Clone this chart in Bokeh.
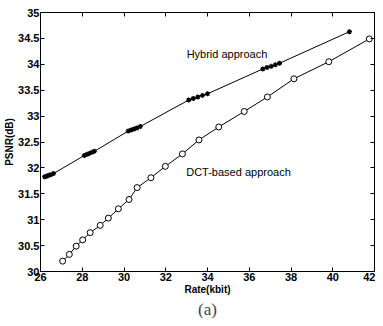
from bokeh.plotting import figure
from bokeh.models import LinearAxis, FixedTicker, Title, Range1d, CustomJSTickFormatter
from bokeh.core.properties import value
from bokeh.embed import file_html
from bokeh.resources import INLINE

# Hybrid approach (clusters of operating points)
hybrid_x = [26.20, 26.30, 26.40, 26.50, 26.62,
            28.10, 28.22, 28.34, 28.46, 28.58,
            30.20, 30.34, 30.48, 30.62, 30.78,
            33.10, 33.32, 33.54, 33.76, 34.00,
            36.65, 36.85, 37.05, 37.25, 37.45,
            40.80]
hybrid_y = [31.83, 31.84, 31.86, 31.87, 31.89,
            32.24, 32.26, 32.28, 32.30, 32.32,
            32.71, 32.73, 32.75, 32.77, 32.80,
            33.31, 33.34, 33.37, 33.40, 33.43,
            33.91, 33.94, 33.96, 33.99, 34.02,
            34.63]

# DCT-based approach
dct_x = [27.06, 27.38, 27.71, 28.02, 28.38, 28.86, 29.25, 29.73, 30.24, 30.63,
         31.29, 31.98, 32.80, 33.59, 34.54, 35.76, 36.87, 38.14, 39.81, 41.75]
dct_y = [30.20, 30.33, 30.49, 30.61, 30.75, 30.89, 31.03, 31.21, 31.39, 31.62,
         31.81, 32.03, 32.27, 32.54, 32.79, 33.09, 33.37, 33.72, 34.05, 34.49]

x_ticks = [26, 28, 30, 32, 34, 36, 38, 40, 42]
y_ticks = [30, 30.5, 31, 31.5, 32, 32.5, 33, 33.5, 34, 34.5, 35]
y_tick_labels = ["30", "30.5", "31", "31.5", "32", "32.5", "33", "33.5", "34", "34.5", "35"]

FONT = "Liberation Sans"

p = figure(width=375, height=318, output_backend="svg", toolbar_location=None,
           x_range=Range1d(26, 42), y_range=Range1d(30, 35),
           min_border_left=40, min_border_right=1, min_border_top=12, min_border_bottom=46,
           x_axis_label="Rate(kbit)", y_axis_label="PSNR(dB)")
p.grid.visible = False
p.outline_line_color = "black"
p.outline_line_width = 1
p.background_fill_color = "white"
p.border_fill_color = "white"

for ax in p.xaxis + p.yaxis:
    ax.major_tick_in = 4
    ax.major_tick_out = 0
    ax.minor_tick_line_color = None
    ax.axis_line_color = "black"
    ax.major_label_text_font = FONT
    ax.major_label_text_font_style = "bold"
    ax.major_label_text_font_size = "11px"
    ax.major_label_text_color = "black"
    ax.axis_label_text_font = FONT
    ax.axis_label_text_font_style = "bold"
    ax.axis_label_text_font_size = "10px"
    ax.axis_label_text_color = "black"
    ax.axis_label_standoff = 0
    ax.major_label_standoff = 1

p.xaxis.ticker = FixedTicker(ticks=x_ticks)
p.yaxis.ticker = FixedTicker(ticks=y_ticks)
p.yaxis.major_label_overrides = {float(t): s for t, s in zip(y_ticks, y_tick_labels)}

top = LinearAxis(ticker=FixedTicker(ticks=x_ticks), major_tick_in=4, major_tick_out=0,
                 minor_tick_line_color=None, formatter=CustomJSTickFormatter(code="return ''"),
                 major_label_standoff=0, axis_line_color=None)
right = LinearAxis(ticker=FixedTicker(ticks=y_ticks), major_tick_in=4, major_tick_out=0,
                   minor_tick_line_color=None, formatter=CustomJSTickFormatter(code="return ''"),
                   major_label_standoff=0, axis_line_color=None)
p.add_layout(top, "above")
p.add_layout(right, "right")

# Hybrid
p.line(hybrid_x, hybrid_y, line_color="black", line_width=1)
p.scatter(hybrid_x, hybrid_y, marker="asterisk", size=5, line_color="black", line_width=1.3)

# DCT
p.line(dct_x, dct_y, line_color="black", line_width=1)
p.scatter(dct_x, dct_y, marker="circle", size=6, line_color="black", fill_color="white", line_width=1)

p.text(x=[33.0], y=[34.19], text=["Hybrid approach"], text_font=value(FONT),
       text_font_size="11px", text_baseline="alphabetic", text_color="black")
p.text(x=[32.98], y=[31.93], text=["DCT-based approach"], text_font=value(FONT),
       text_font_size="11px", text_baseline="alphabetic", text_color="black")

t = Title(text="(a)", align="center", text_font="Liberation Serif", text_font_size="17px",
          text_font_style="normal", standoff=0, offset=-14)
p.add_layout(t, "below")

open("out.html", "w").write(file_html(p, INLINE))
